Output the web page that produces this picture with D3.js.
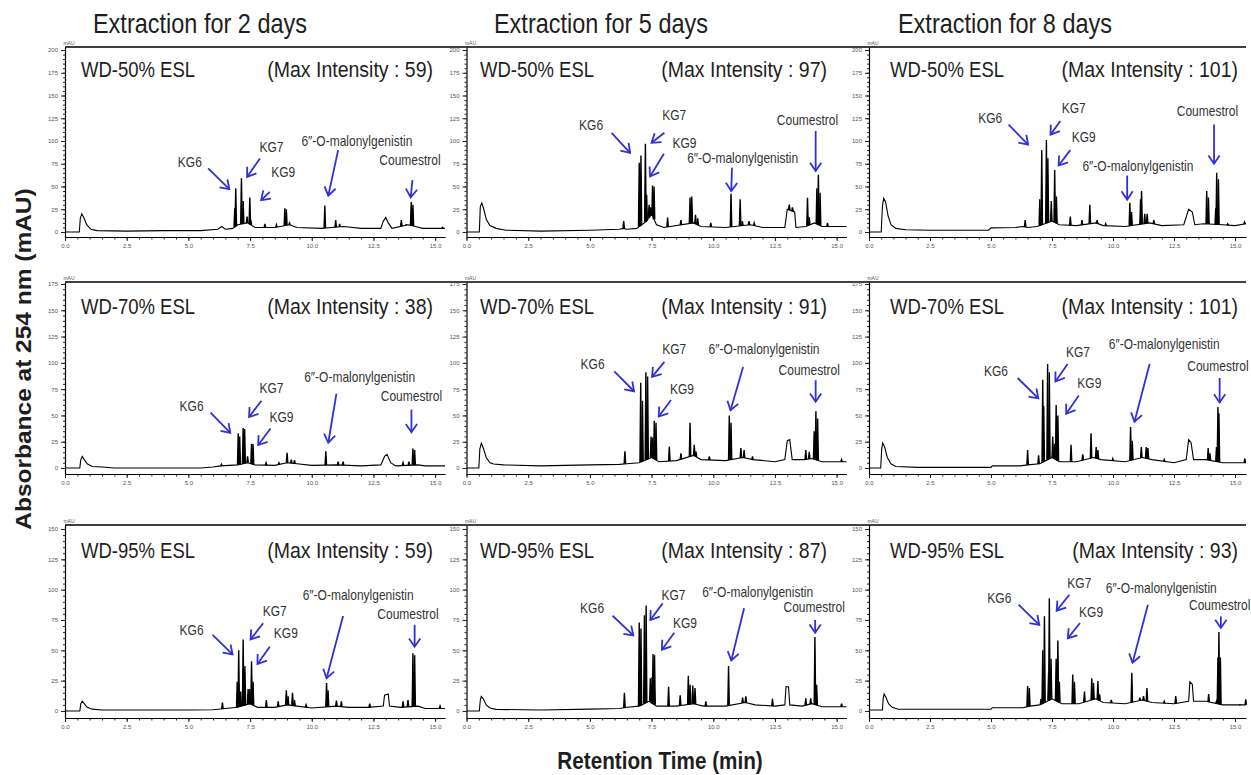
<!DOCTYPE html>
<html><head><meta charset="utf-8">
<script src="https://cdn.jsdelivr.net/npm/d3@7"></script>
<style>body{margin:0;background:#fff}svg{display:block}</style>
</head><body>
<svg id="chart" width="1251" height="775"></svg>
<script>
// ---------------- DATA ----------------
const columnTitles = ["Extraction for 2 days", "Extraction for 5 days", "Extraction for 8 days"];
const sampleNames = ["WD-50% ESL", "WD-70% ESL", "WD-95% ESL"];
const maxIntensity = [[59, 97, 101], [38, 91, 101], [59, 87, 93]];
const yTickMax = [200, 175, 150];
const xTickValues = [0, 2.5, 5, 7.5, 10, 12.5, 15];
const compounds = ["KG6", "KG7", "KG9", "6\u2033-O-malonylgenistin", "Coumestrol"];

// baseline: [time (min), absorbance (mAU)]; peaks: [time (min), apex (mAU)]
const base_W50_D2 = [[0,0],[0.58,0],[0.62,15],[0.68,20],[0.76,16],[0.88,8],[1.05,3],[1.3,1.5],[2.5,1],[4,1.5],[5.5,1.5],[6.2,3],[6.35,6],[6.5,3],[6.8,4],[7.0,8],[7.4,10],[7.7,5],[8.5,5],[9.1,8],[9.4,5],[10.4,4],[10.8,5],[11.3,6],[12,4],[12.8,4],[12.9,12],[13.0,16],[13.1,10],[13.25,4],[13.9,8],[14.2,6],[14.5,4],[15.4,4]];
const peaks_W50_D2 = [[6.88,26],[6.92,48],[7.15,59],[7.22,34],[7.38,17],[7.49,38],[7.53,13],[8.1,9],[8.57,8],[8.91,26],[8.97,25],[9.1,10],[10.53,29],[10.97,13],[11.13,9],[13.63,13],[13.83,8],[14.03,33],[14.1,30],[15.3,5]];

const base_W50_D5 = [[0,0],[0.52,0],[0.56,28],[0.62,32],[0.7,25],[0.8,14],[0.95,7],[1.2,4],[1.6,2],[3,1],[5,2],[6.2,3],[6.35,4],[6.5,3],[6.9,4],[7.3,12],[7.5,20],[7.7,8],[8,5],[9.2,10],[9.5,6],[10.5,5],[11.5,8],[12,5],[12.9,5],[13.0,25],[13.3,22],[13.35,5],[13.75,6],[14.1,10],[14.4,6],[15.4,6]];
const peaks_W50_D5 = [[6.37,12],[7.0,76],[7.07,84],[7.25,97],[7.3,41],[7.4,30],[7.47,27],[7.54,51],[7.6,50],[8.15,16],[8.69,13],[9.06,38],[9.13,39],[9.28,19],[9.37,15],[9.9,10],[10.72,42],[11.09,36],[11.18,12],[11.45,12],[11.66,10],[13.08,30],[13.21,27],[13.82,37.5],[13.89,16],[14.2,48],[14.26,63],[14.33,43],[14.63,10]];

const base_W50_D8 = [[0,0],[0.5,0],[0.55,28],[0.6,37],[0.68,33],[0.78,18],[0.9,8],[1.1,4],[1.5,2.5],[2.5,2],[4.9,2],[5.0,4.5],[6.0,5],[6.3,6],[6.5,5],[6.9,6],[7.5,12],[7.8,8],[8.5,7],[9.3,10],[9.6,7],[10.5,6],[11.5,10],[12,7],[12.9,8],[13.1,25],[13.25,22],[13.35,8],[13.7,9],[14.5,8],[15.0,7],[15.45,9]];
const peaks_W50_D8 = [[6.4,13],[7.0,36],[7.08,90],[7.27,101],[7.33,81],[7.47,34],[7.61,68],[7.68,39],[8.25,17],[8.73,13],[9.05,30],[9.35,13],[9.7,9],[10.69,32],[10.76,22],[11.13,36],[11.17,45],[11.3,20],[11.4,20],[11.67,13],[13.84,45],[13.91,38],[14.21,26],[14.25,65],[14.32,58],[14.7,9],[15.39,11]];

const base_W70_D2 = [[0,0],[0.6,0],[0.64,8],[0.7,11],[0.78,8],[0.9,4],[1.1,1.5],[1.5,1],[2,0],[5.5,0],[6,1],[6.3,2],[7.0,3],[7.4,5],[7.7,3],[8.5,2.5],[9.0,5],[9.4,4],[10,2.5],[11,3],[12,2],[12.8,3],[12.95,11],[13.05,13],[13.2,5],[13.4,2],[14.3,3],[14.6,2],[15.4,2]];
const peaks_W70_D2 = [[6.34,3.5],[7.02,33],[7.08,30],[7.22,38],[7.28,37],[7.4,11],[7.56,23],[7.62,22.7],[8.15,5],[8.67,5],[9.0,14.5],[9.17,8],[9.3,7.5],[10.57,16],[11.07,6],[11.27,6],[13.7,5],[13.94,6],[14.1,18.6],[14.17,17]];

const base_W70_D5 = [[0,0],[0.5,0],[0.54,18],[0.6,23.6],[0.68,19],[0.8,10],[0.95,5],[1.1,3.8],[1.5,3],[3,2],[5,3],[6.2,3.5],[6.5,4],[7.0,5],[7.5,10],[7.8,6],[8.5,7],[9.2,12],[9.5,8],[10.5,7],[11.2,10],[11.6,8],[12.5,6],[12.9,8],[13.0,26],[13.1,27],[13.2,8],[13.7,8],[14.0,9],[14.4,6],[15.4,6]];
const peaks_W70_D5 = [[6.42,16],[7.06,81],[7.13,64],[7.27,91],[7.34,87],[7.48,30],[7.54,29],[7.61,45],[7.68,43],[8.22,20.5],[8.69,14],[9.06,43],[9.23,22],[9.3,15.5],[9.84,11],[10.65,50],[10.72,43],[11.12,19],[11.25,17],[11.59,11],[13.75,17],[13.89,15.5],[14.09,35],[14.16,54],[14.23,47],[15.2,8]];

const base_W70_D8 = [[0,0],[0.48,0],[0.52,18],[0.56,24],[0.64,20],[0.75,10],[0.9,4],[1.1,1.5],[2,0.6],[5,0.6],[5.05,2],[6.2,2],[6.5,3],[7.0,4],[7.5,10],[7.8,6],[8.5,6],[9.2,10],[9.5,8],[10.5,6],[11.2,10],[11.6,8],[12.5,5],[13.0,8],[13.1,27],[13.2,24],[13.3,8],[13.8,8],[14.5,5],[15.45,5]];
const peaks_W70_D8 = [[6.5,17],[6.95,12],[7.12,84],[7.16,59],[7.32,99],[7.39,91],[7.53,30],[7.6,23],[7.67,60],[7.74,50],[8.28,22],[8.76,13],[9.1,33],[9.31,20],[9.38,17],[9.99,9],[10.72,39],[10.79,26],[11.16,20],[11.36,20],[11.43,19],[12.1,8],[13.9,19],[13.97,14],[14.24,20],[14.3,58],[14.34,52],[15.4,9]];

const base_W95_D2 = [[0,0],[0.6,0],[0.64,6],[0.7,8],[0.78,6],[0.9,3],[1.1,1.5],[1.5,0.8],[5,0.8],[6.0,1],[6.5,2],[7.0,3],[7.5,6],[7.8,3],[8.5,3],[9.0,5],[9.4,4],[10,2.5],[11,4],[11.5,3],[12.3,3],[12.9,4],[12.95,13],[13.1,14],[13.15,4],[13.6,3],[14.3,4],[14.6,2],[15.4,2]];
const peaks_W95_D2 = [[6.38,7],[6.98,24],[7.04,50],[7.12,16],[7.22,59],[7.29,37],[7.42,18],[7.49,18],[7.56,41],[7.62,24],[8.16,9],[8.64,8],[8.97,17],[9.04,12],[9.22,15],[9.3,9],[9.77,5],[10.6,23],[10.66,17],[11.0,8.5],[11.2,8],[12.35,6],[13.7,8],[13.9,9],[14.1,47.5],[14.17,46],[15.2,4]];

const base_W95_D5 = [[0,0],[0.52,0],[0.56,9],[0.6,12],[0.68,10],[0.8,5],[0.95,2.5],[1.2,1.3],[3,0.8],[5,1.5],[6.2,2],[6.5,3],[7.0,4],[7.4,8],[7.7,4],[8.5,4],[9.2,6],[9.6,4],[10.5,4],[11.3,7],[11.7,5],[12.5,4],[12.9,5],[12.95,20],[13.05,20],[13.1,5],[13.6,4],[14.0,6],[14.4,3.5],[15.4,3.5]];
const peaks_W95_D5 = [[6.4,15],[7.0,73],[7.07,68],[7.21,79],[7.28,87],[7.45,27],[7.52,28],[7.56,47],[7.62,46],[8.19,20],[8.66,13],[8.99,29],[9.06,21.5],[9.17,21],[9.26,19],[9.7,8],[10.62,37],[11.19,11],[11.32,12],[12.4,10],[13.75,10.5],[13.95,10.5],[14.12,61],[14.19,21.5],[15.2,6]];

const base_W95_D8 = [[0,0.8],[0.55,0.8],[0.58,10],[0.62,14],[0.7,11],[0.8,6],[0.95,3],[1.2,1.4],[5,1.4],[5.05,2.7],[6.3,2.7],[6.6,4],[7.0,5],[7.5,10],[7.9,6],[8.6,6],[9.3,10],[9.6,7],[10.5,6],[11.2,9],[11.6,7],[12.5,6],[13.1,8],[13.15,24],[13.25,22],[13.3,8],[13.8,8],[14.5,5],[15.45,5]];
const peaks_W95_D8 = [[6.5,20.5],[6.57,19],[7.05,10],[7.12,50],[7.19,78],[7.36,31.5],[7.39,93],[7.46,43],[7.67,43],[7.74,58],[7.8,24],[8.35,30],[8.42,24],[8.83,16],[9.13,27],[9.2,23],[9.38,24.6],[9.45,13.7],[9.93,9],[10.77,31.5],[11.1,11],[11.25,12.3],[11.39,19],[12.1,8],[12.57,12.3],[13.92,14],[14.24,8],[14.3,44],[14.34,65],[14.4,44],[15.2,5],[15.44,9.6]];

// ---------------- ANNOTATION PLACEMENT (label t,v ; arrow from t,v ; arrow to t,v) ----------------
const notes = [
 [ [[5.06,77,5.8,70,6.66,47],[8.37,93.6,7.9,80.8,7.38,60.6],[8.84,66,8.3,44,7.95,35],[11.83,100,11.07,90,10.67,40],[13.98,79,14.08,57,14.01,38]],
   [[5.05,118,5.88,109,6.63,87],[8.42,129,8.02,109,7.5,98],[8.83,98,8.0,86,7.44,61],[11.19,81.5,10.76,70.5,10.73,45],[13.82,123.6,14.15,111,14.15,67]],
   [[4.97,126,5.72,118,6.52,96],[8.39,137,7.84,122,7.44,107],[8.8,105,8.25,90,7.77,73],[11.02,73,10.58,62,10.58,35.6],[13.87,133,14.14,118,14.14,75]] ],
 [ [[5.13,59.6,5.9,52.7,6.7,33.4],[8.37,76,7.96,64,7.46,48.5],[8.77,48.5,8.33,37.5,7.83,21.8],[11.94,86.4,11.0,70.7,10.67,24],[14.04,69,14.04,55.5,14.04,34]],
   [[5.11,99,5.99,92,6.79,73],[8.42,113.5,8.02,101,7.52,86.7],[8.73,75.7,8.29,64.6,7.79,49],[12.06,113.5,11.21,96,10.7,55],[13.89,93,14.15,83.5,14.15,63]],
   [[5.2,92,6.09,85.6,6.94,66.3],[8.56,110.6,8.14,99,7.64,82.3],[9.03,80.6,8.6,69,8.08,51.6],[12.1,118,11.5,99,10.88,44],[14.3,97.3,14.37,85.6,14.37,62.3]] ],
 [ [[5.13,67.3,5.98,62.7,6.79,46.7],[8.5,82.7,8.03,72.3,7.52,59],[8.95,64.6,8.3,53,7.8,38.7],[11.88,95.6,11.27,78.3,10.6,27],[13.9,80.5,14.17,71,14.17,53]],
   [[5.09,84.7,5.92,78.5,6.76,62.3],[8.39,96,7.95,88.7,7.45,75],[8.85,72.6,8.42,64.5,7.92,50.5],[11.8,98,11.25,84.7,10.73,41.6],[14.09,86,14.13,75,14.13,64.5]],
   [[5.34,93.6,6.13,87.6,6.98,71],[8.62,106,8.21,95.8,7.69,82.7],[9.1,82,8.65,72.5,8.15,60],[11.98,101.8,11.43,87.6,10.8,39.7],[14.37,87.6,14.42,78,14.42,68.4]] ]
];

const traces = [
  [[base_W50_D2, peaks_W50_D2],[base_W50_D5, peaks_W50_D5],[base_W50_D8, peaks_W50_D8]],
  [[base_W70_D2, peaks_W70_D2],[base_W70_D5, peaks_W70_D5],[base_W70_D8, peaks_W70_D8]],
  [[base_W95_D2, peaks_W95_D2],[base_W95_D5, peaks_W95_D5],[base_W95_D8, peaks_W95_D8]]
];

// ---------------- LAYOUT ----------------
const colGeom = [{x0:65,x1:445,tmax:15.4,labL:81,maxR:433,head:200},
                 {x0:466.5,x1:846.5,tmax:15.4,labL:480,maxR:827,head:601},
                 {x0:869,x1:1246,tmax:15.45,labL:890,maxR:1238,head:1005}];
const rowGeom = [{top:47,bottom:237,vmin:-5.5,vmax:203.3,lab:77},
                 {top:282,bottom:474,vmin:-5.7,vmax:176.9,lab:314},
                 {top:525,bottom:718,vmin:-5.8,vmax:153.3,lab:558}];
const FONT = "'Liberation Sans', Arial, Helvetica, sans-serif";
const SY = 1.15;
const TXT = "#1e1e1e";
const BLUE = "#3030d8";

const svg = d3.select("#chart");
svg.append("rect").attr("width",1251).attr("height",775).attr("fill","#fff");

function stext(parent, x, y, str, o) {
  const g = parent.append("g").attr("transform", `translate(${x},${y}) scale(${o.sx||1},${o.sy||SY})`);
  return g.append("text").text(str)
    .attr("font-family", FONT).attr("font-size", o.size)
    .attr("font-weight", o.weight || "normal")
    .attr("text-anchor", o.anchor || "start")
    .attr("dy", o.dy || null)
    .attr("fill", o.fill || TXT);
}

function baseAt(arr, t) {
  const i = d3.bisector(d => d[0]).right(arr, t);
  if (i <= 0) return arr[0][1];
  if (i >= arr.length) return arr[arr.length - 1][1];
  const a = arr[i - 1], b = arr[i];
  return a[1] + (b[1] - a[1]) * (t - a[0]) / (b[0] - a[0]);
}

// column headers
columnTitles.forEach((t, c) => stext(svg, colGeom[c].head, 33, t, {size:23.5, anchor:"middle"}));

// top frame lines per row
rowGeom.forEach(rg => {
  svg.append("line").attr("x1", colGeom[0].x0).attr("x2", 1246)
    .attr("y1", rg.top).attr("y2", rg.top).attr("stroke", "#000").attr("stroke-width", 1.5);
});

rowGeom.forEach((rg, r) => {
  colGeom.forEach((cg, c) => {
    const x = d3.scaleLinear().domain([0, cg.tmax]).range([cg.x0, cg.x1]);
    const y = d3.scaleLinear().domain([rg.vmin, rg.vmax]).range([rg.bottom, rg.top]);
    const g = svg.append("g");

    // minor ticks
    g.append("g").attr("transform", `translate(${cg.x0},0)`)
      .call(d3.axisLeft(y).tickValues(d3.range(0, yTickMax[r] + 1, 5)).tickSize(2).tickFormat(""))
      .call(a => a.select(".domain").remove());
    g.append("g").attr("transform", `translate(0,${rg.bottom})`)
      .call(d3.axisBottom(x).tickValues(d3.range(0, cg.tmax, 0.5)).tickSize(2.5).tickFormat(""))
      .call(a => a.select(".domain").remove());

    // major axes
    const ya = g.append("g").attr("transform", `translate(${cg.x0},0)`)
      .call(d3.axisLeft(y).tickValues(d3.range(0, yTickMax[r] + 1, 25)).tickSize(4).tickSizeOuter(0).tickPadding(3).tickFormat(d3.format("d")));
    const xa = g.append("g").attr("transform", `translate(0,${rg.bottom})`)
      .call(d3.axisBottom(x).tickValues(xTickValues).tickSize(4).tickSizeOuter(0).tickPadding(3).tickFormat(d3.format(".1f")));
    [ya, xa].forEach(a => {
      a.selectAll("text").attr("font-size", 6).attr("font-family", FONT).attr("fill", "#555");
      a.select(".domain").attr("stroke-width", 1.2);
    });
    g.selectAll(".tick line").attr("stroke", "#222");

    g.append("text").text("mAU").attr("x", cg.x0 + 4).attr("y", rg.top - 2)
      .attr("font-size", 5).attr("font-family", FONT).attr("fill", "#555").attr("text-anchor", "middle");

    // trace
    const [base, peaks] = traces[r][c];
    const line = d3.line().x(d => x(d[0])).y(d => y(d[1]));
    g.append("path").attr("d", line(base)).attr("fill", "none").attr("stroke", "#000").attr("stroke-width", 1.1);
    const w = 0.03;
    peaks.forEach(p => {
      const b = baseAt(base, p[0]);
      g.append("path").attr("d", line([[p[0] - w, b], [p[0], p[1]], [p[0] + w, b]]))
        .attr("fill", "#000").attr("stroke", "#000").attr("stroke-width", 1.4).attr("stroke-linejoin", "miter");
    });

    // labels
    stext(g, cg.labL, rg.lab, sampleNames[r], {size:18.5});
    stext(g, cg.maxR, rg.lab, `(Max Intensity : ${maxIntensity[r][c]})`, {size:19.5, anchor:"end"});

    // annotations
    notes[r][c].forEach((n, k) => {
      const [lt, lv, ft, fv, tt, tv] = n;
      stext(g, x(lt), y(lv), compounds[k], {size:12, anchor:"middle", dy:"0.36em", sy:1.2, fill:"#333"});
      const x1 = x(ft), y1 = y(fv), x2 = x(tt), y2 = y(tv);
      g.append("line").attr("x1", x1).attr("y1", y1).attr("x2", x2).attr("y2", y2)
        .attr("stroke", BLUE).attr("stroke-width", 1.8);
      const ang = Math.atan2(y2 - y1, x2 - x1) + Math.PI;
      const L = 10, spread = 0.6;
      const pts = [[x2 + L * Math.cos(ang - spread), y2 + L * Math.sin(ang - spread)], [x2, y2],
                   [x2 + L * Math.cos(ang + spread), y2 + L * Math.sin(ang + spread)]];
      g.append("path").attr("d", d3.line()(pts)).attr("fill", "none")
        .attr("stroke", BLUE).attr("stroke-width", 1.8).attr("stroke-linejoin", "miter");
    });
  });
});

// axis titles
svg.append("g").attr("transform", "translate(30.5,359) rotate(-90) scale(1.15,1)")
  .append("text").text("Absorbance at 254 nm (mAU)")
  .attr("font-family", FONT).attr("font-size", 21.3).attr("font-weight", "bold")
  .attr("text-anchor", "middle").attr("fill", TXT);
stext(svg, 660, 769, "Retention Time (min)", {size:20.7, weight:"bold", anchor:"middle"});
</script>
</body></html>
